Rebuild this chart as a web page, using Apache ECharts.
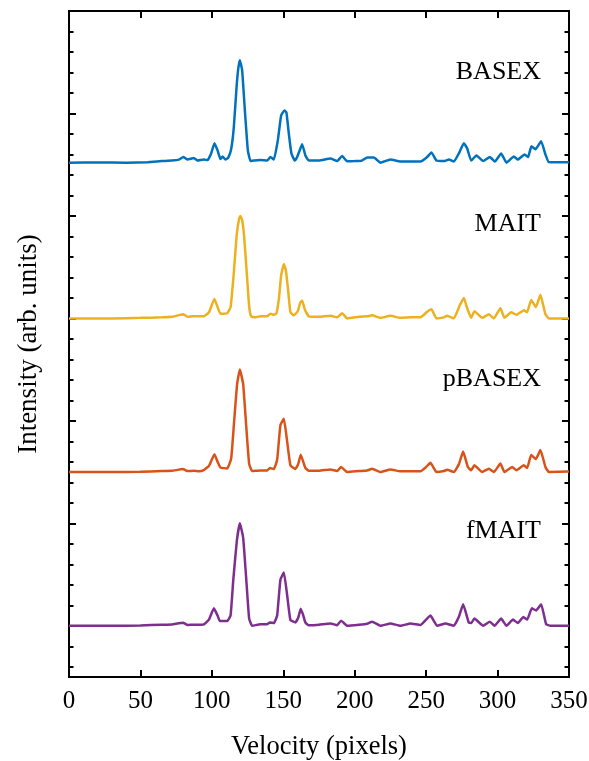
<!DOCTYPE html>
<html>
<head>
<meta charset="utf-8">
<script src="https://cdn.jsdelivr.net/npm/echarts@6/dist/echarts.min.js"></script>
<style>
  html, body { margin: 0; padding: 0; background: #fff; }
  #chart { width: 589px; height: 761px; }
</style>
</head>
<body>
<div id="chart"></div>
<script>
// [velocity, normalised intensity]
const basex = [[0,0],[20,0.002],[40,0],[55,0.005],[65,0.015],[72,0.02],[77,0.03],[80,0.055],[83,0.03],[87.4,0.045],[90,0.02],[94.4,0.03],[97,0.025],[99.5,0.09],[101.8,0.19],[104,0.12],[106,0.035],[107.5,0.06],[109.5,0.03],[111.5,0.05],[113.5,0.13],[115.4,0.35],[117.3,0.74],[118.5,0.92],[119.6,1.0],[121.2,0.9],[123.1,0.51],[125.2,0.12],[127.1,0.015],[129.4,0.02],[134,0.025],[138.7,0.02],[141,0.055],[143.4,0.03],[146.2,0.22],[148.5,0.46],[150.8,0.51],[152.2,0.49],[153.9,0.28],[155.7,0.09],[158.1,0.02],[159.7,0.055],[161.5,0.12],[163.2,0.18],[165.5,0.07],[167.9,0.02],[175,0.02],[183,0.04],[187.7,0.015],[191.2,0.065],[194.7,0.013],[200,0.015],[205,0.02],[208.7,0.05],[213.4,0.05],[218,0.0],[225,0.03],[232,0.01],[239,0.01],[246,0.01],[250.7,0.055],[253.7,0.1],[257.2,0.02],[262.4,0.015],[266,0.03],[269.4,0.01],[272.9,0.09],[276.4,0.19],[278.7,0.14],[281.5,0.02],[285.2,0.07],[289.9,0.015],[294.6,0.055],[298.1,0.01],[302.5,0.09],[306.2,0.0],[311.4,0.06],[314.2,0.03],[318.9,0.08],[321.4,0.055],[323.7,0.16],[326.5,0.13],[330.5,0.21],[333.5,0.08],[335.9,0.005],[342,0.003],[350,0.003]];

const mait = [[0,0],[30,0],[50,0.005],[65,0.01],[72,0.015],[79.9,0.04],[83,0.015],[87.4,0.02],[91,0.02],[94.4,0.02],[98,0.06],[101.8,0.19],[104,0.11],[106,0.045],[110.7,0.05],[113.1,0.11],[115.4,0.45],[117.3,0.8],[119,0.97],[120,1.0],[121.2,0.96],[122.6,0.8],[124.3,0.47],[126.1,0.12],[127.5,0.02],[130,0.01],[134,0.02],[138.7,0.02],[141,0.045],[143.4,0.035],[145.2,0.05],[147,0.2],[148.5,0.42],[150.4,0.53],[151.8,0.47],[153.5,0.26],[155,0.06],[157.4,0.03],[160.1,0.07],[161.8,0.15],[163.2,0.175],[165,0.09],[167.9,0.02],[175,0.015],[183,0.025],[187.7,0.01],[191.2,0.05],[194.7,0.0],[203,0.015],[208.7,0.02],[212.2,0.03],[218,0.005],[225,0.025],[232,0.005],[239,0.01],[246,0.01],[250.7,0.065],[253.7,0.09],[257.2,0.0],[262.4,0.01],[264.7,0.025],[269.4,0.0],[273.6,0.13],[276.4,0.2],[278.7,0.1],[281.5,0.005],[283.8,0.07],[289.2,0.005],[293.9,0.04],[297.4,0.0],[302,0.1],[304.8,0.005],[309.5,0.06],[313.2,0.035],[318.4,0.08],[320.7,0.06],[323.5,0.18],[326.8,0.11],[330,0.23],[333.5,0.04],[335.9,0],[350,0]];

const pbasex = [[0,0],[30,0],[50,0.003],[65,0.01],[72,0.012],[79.9,0.03],[83,0.01],[87.4,0.012],[91,0.008],[94.4,0.02],[98,0.06],[101.8,0.175],[104,0.1],[106,0.045],[110.7,0.035],[113.5,0.13],[115.4,0.46],[117.7,0.86],[119.6,1.0],[121.9,0.86],[124,0.46],[126.1,0.08],[128.2,0.01],[134,0.015],[138.7,0.015],[140.6,0.04],[143.4,0.03],[145.7,0.12],[148,0.46],[150.4,0.52],[152.7,0.3],[155,0.066],[158.5,0.03],[160.5,0.08],[162.2,0.17],[164,0.1],[165.5,0.04],[167.9,0.013],[175,0.013],[183,0.026],[187.7,0.01],[190.5,0.05],[194.7,0.0],[203,0.01],[208.7,0.015],[212.2,0.033],[218,0.0],[225,0.026],[232,0.007],[239,0.007],[246,0.007],[250,0.05],[253,0.09],[257.2,0.0],[262.4,0.01],[264.7,0.023],[269.4,0.0],[273,0.08],[275.9,0.2],[279.2,0.05],[281.5,0.017],[283.8,0.066],[289.2,0],[293.9,0.033],[297.4,0.0],[302,0.083],[304.8,0],[310.2,0.05],[313.2,0.017],[318.4,0.066],[320.7,0.04],[323.5,0.166],[326.8,0.126],[330,0.215],[333.5,0.05],[335.9,0],[350,0.005]];

const fmait = [[0,0],[30,0],[50,0.003],[65,0.01],[72,0.013],[79.9,0.03],[83,0.008],[87.4,0.01],[91,0.01],[94.4,0.013],[98,0.06],[101.4,0.17],[104,0.1],[105.6,0.046],[110.7,0.046],[113.1,0.1],[114.9,0.43],[117.5,0.83],[119.6,1.0],[121.9,0.86],[124,0.47],[126.1,0.07],[128.2,0],[134,0.015],[138.7,0.015],[140.6,0.033],[143.4,0.026],[145.7,0.1],[148,0.45],[150.4,0.52],[152.7,0.3],[155,0.056],[158.5,0.033],[160.5,0.08],[162.2,0.165],[164,0.1],[165.5,0.03],[167.9,0.005],[175,0.01],[183,0.023],[187.7,0.005],[190.5,0.05],[194.7,0.0],[203,0.01],[208.7,0.02],[212.2,0.04],[218,0.0],[225,0.023],[232,0],[239,0.023],[246,0.007],[250,0.06],[253,0.1],[257.7,0.0],[263.5,0.023],[269.4,0],[273,0.09],[275.9,0.21],[279.8,0.033],[281.5,0.026],[283.8,0.07],[289.9,0],[294.6,0.04],[297.9,0],[302.5,0.07],[306.2,0],[310.8,0.06],[314.2,0.026],[318,0.086],[320.7,0.06],[324,0.17],[327,0.15],[330.5,0.21],[334,0.016],[337,0],[350,0]];

const names = ["BASEX", "MAIT", "pBASEX", "fMAIT"];
const offsets = [4.52, 3.0, 1.5, 0];
const colors = ["#0072BD", "#EDB120", "#D95319", "#7E2F8E"];
const spectra = [basex, mait, pbasex, fmait];

const xTicks = [0, 50, 100, 150, 200, 250, 300, 350];
const yMajor = [0, 1, 2, 3, 4, 5, 6];

const yMinor = [];
for (let i = -2; i <= 30; i++) {
  if (i % 5 !== 0) yMinor.push(Math.round(i * 0.2 * 10) / 10);
}

const FONT = '"Liberation Serif", "Times New Roman", serif';

let chart = echarts.init(document.getElementById("chart"));

function yAxisOf(position, ticks, len) {
  return {
    type: "value",
    position: position,
    min: -0.5,
    max: 6,
    axisLine: { show: true, onZero: false, lineStyle: { color: "#000", width: 2 } },
    axisTick: {
      show: true,
      inside: true,
      length: len,
      customValues: ticks,
      lineStyle: { color: "#000", width: 2 }
    },
    axisLabel: { show: false },
    splitLine: { show: false }
  };
}

let yAxes = [
  yAxisOf("left", yMajor, 7),
  yAxisOf("left", yMinor, 4.5),
  yAxisOf("right", yMajor, 7),
  yAxisOf("right", yMinor, 4.5)
];
yAxes[0].name = "Intensity (arb. units)";
yAxes[0].nameLocation = "middle";
yAxes[0].nameGap = 27;
yAxes[0].nameTextStyle = { fontFamily: FONT, fontSize: 27, color: "#000" };

chart.setOption({
  backgroundColor: "#fff",
  animation: false,
  grid: {
    left: 69,
    right: 20,
    top: 11,
    bottom: 84,
    containLabel: false,
    outerBoundsMode: "none"
  },
  xAxis: [
    {
      type: "value",
      position: "bottom",
      min: 0,
      max: 350,
      interval: 50,
      name: "Velocity (pixels)",
      nameLocation: "middle",
      nameGap: 57,
      nameTextStyle: { fontFamily: FONT, fontSize: 26.5, color: "#000" },
      axisLine: { show: true, onZero: false, lineStyle: { color: "#000", width: 2 } },
      axisTick: { show: true, inside: true, length: 7, lineStyle: { color: "#000", width: 2 } },
      axisLabel: {
        fontFamily: FONT,
        fontSize: 25,
        color: "#000",
        margin: 12,
        customValues: xTicks
      },
      splitLine: { show: false }
    },
    {
      type: "value",
      position: "top",
      min: 0,
      max: 350,
      interval: 50,
      axisLine: { show: true, onZero: false, lineStyle: { color: "#000", width: 2 } },
      axisTick: { show: true, inside: true, length: 7, lineStyle: { color: "#000", width: 2 } },
      axisLabel: { show: false },
      splitLine: { show: false }
    }
  ],
  yAxis: yAxes,
  graphic: [
    { type: "text", style: { text: names[0], x: 541, y: 72, align: "right", verticalAlign: "middle", font: "26px " + FONT, fill: "#000" } },
    { type: "text", style: { text: names[1], x: 541, y: 224, align: "right", verticalAlign: "middle", font: "26px " + FONT, fill: "#000" } },
    { type: "text", style: { text: names[2], x: 541, y: 379, align: "right", verticalAlign: "middle", font: "26px " + FONT, fill: "#000" } },
    { type: "text", style: { text: names[3], x: 541, y: 531, align: "right", verticalAlign: "middle", font: "26px " + FONT, fill: "#000" } }
  ],
  series: spectra.map((d, k) => ({
    name: names[k],
    type: "line",
    xAxisIndex: 0,
    yAxisIndex: 0,
    showSymbol: false,
    smooth: 0.12,
    lineStyle: { color: colors[k], width: 2.5 },
    data: d.map(p => [p[0], p[1] + offsets[k]])
  }))
});

window.addEventListener("resize", () => {
  chart.resize();
});
</script>
</body>
</html>
